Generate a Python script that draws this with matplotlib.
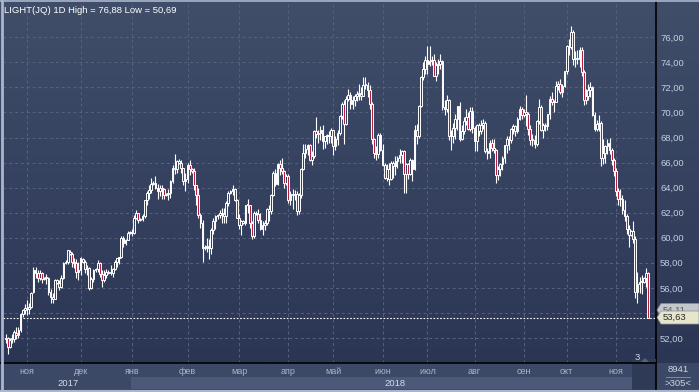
import numpy as np
import matplotlib
matplotlib.use("Agg")
import matplotlib.pyplot as plt
from matplotlib.patches import Rectangle, Polygon
from matplotlib.colors import LinearSegmentedColormap

plt.rcParams['font.family'] = ['Liberation Sans', 'DejaVu Sans']

# daily candles, 18.10.2017 .. 20.11.2018 (terminal also shows short sunday sessions in winter)
opens = [
    51.9, 52.0, 51.3, 51.9, 51.9, 52.4, 52.2, 52.6, 53.9, 54.2,
    # nov 2017
    54.4, 54.3, 54.5, 55.7, 57.4, 57.2, 56.8, 57.2, 56.7, 56.8, 56.8, 55.7, 55.3, 55.1, 56.6,
    56.4, 56.1, 56.8, 58.0, 58.1, 58.9, 58.7, 58.1, 58.0, 57.3,
    # dec
    57.4, 58.3, 58.1, 57.5, 57.6, 56.0, 56.7, 57.4, 57.5, 58.0, 57.1, 56.6, 57.0, 57.3, 57.2,
    57.2, 57.5, 58.1, 58.4, 58.5, 60.0, 59.6, 59.8, 60.4,
    # jan 2018
    60.4, 60.4, 61.6, 62.0, 61.4, 61.5, 61.7, 63.0, 63.6, 63.8, 64.3, 64.4, 64.0, 63.7, 64.0,
    63.9, 63.4, 63.5, 63.6, 64.5, 65.6, 65.5, 66.1, 66.0, 65.6, 64.5,
    # feb
    64.7, 65.8, 65.5, 65.3, 64.2, 63.4, 61.8, 61.2, 59.2, 59.3, 59.3, 59.2, 60.6, 61.3, 61.7,
    61.8, 62.0, 61.9, 61.7, 62.8, 63.6, 63.7, 63.9, 63.0,
    # mar
    61.6, 61.0, 61.3, 61.2, 62.6, 62.6, 61.2, 60.1, 62.0, 61.9, 61.4, 60.7, 61.0, 61.2, 62.3,
    62.1, 63.4, 65.2, 64.3, 65.9, 65.6, 65.3, 64.4,
    # apr
    64.9, 63.0, 63.5, 63.4, 63.5, 62.1, 63.4, 65.5, 66.8, 67.1, 67.4, 66.2, 66.5, 68.5, 68.3,
    68.4, 68.6, 67.7, 68.1, 68.2, 68.1,
    # may
    68.6, 67.3, 67.9, 68.4, 69.7, 70.7, 69.1, 71.1, 71.4, 70.7, 71.0, 71.3, 71.5, 71.5, 71.3,
    72.2, 72.2, 71.8, 70.7, 67.9, 66.8, 66.7, 68.2,
    # jun
    67.0, 65.8, 64.8, 65.5, 64.7, 66.0, 65.7, 66.1, 66.4, 66.6, 66.9, 65.1, 65.9, 65.1, 66.2,
    65.5, 68.6, 68.1, 70.5, 72.8, 73.5,
    # jul
    74.2, 73.9, 74.1, 74.2, 72.9, 73.8, 73.9, 74.1, 70.4, 70.3, 71.0, 68.1, 68.1, 68.8, 69.5,
    70.5, 67.9, 68.5, 69.3, 69.6, 68.7, 70.1,
    # aug
    68.8, 67.7, 69.0, 68.5, 69.0, 69.2, 66.9, 66.8, 67.6, 67.2, 67.0, 65.0, 65.5, 65.9, 66.4,
    67.4, 67.9, 67.8, 68.7, 68.9, 68.5, 69.5, 70.3,
    # sep
    69.8, 70.0, 69.9, 68.7, 67.8, 67.8, 67.5, 69.3, 70.4, 68.6, 69.0, 68.9, 69.9, 71.1, 70.8,
    70.8, 72.1, 72.3, 71.6, 72.1,
    # oct
    73.3, 75.3, 75.2, 76.4, 74.3, 74.3, 74.3, 75.0, 73.2, 71.0, 71.3, 71.8, 72.0, 69.8, 68.7,
    69.1, 69.2, 66.4, 66.8, 67.3, 67.6, 67.0, 66.2,
    # nov 2018
    65.3, 63.7, 63.1, 63.1, 62.2, 61.7, 60.7, 60.2, 60.5, 59.9, 55.7, 56.3, 56.5, 56.5, 56.8,
    57.2,
]
highs = [
    52.3, 52.1, 52.0, 52.3, 52.6, 52.9, 52.9, 54.0, 54.3, 54.7,
    55.0, 54.8, 55.7, 57.7, 57.7, 57.4, 57.4, 57.3, 56.9, 57.1, 56.9, 55.9, 55.6, 56.7, 56.7,
    56.6, 57.0, 58.1, 58.2, 59.0, 59.0, 58.9, 58.4, 58.3, 58.1,
    58.5, 58.4, 58.2, 57.8, 57.7, 56.9, 57.5, 57.6, 58.2, 58.1, 57.4, 57.4, 57.5, 57.4, 57.8,
    57.6, 58.2, 58.4, 58.5, 60.1, 60.1, 59.9, 60.5, 60.5,
    60.7, 61.8, 62.2, 62.0, 61.6, 61.9, 63.0, 63.7, 64.2, 64.8, 64.5, 64.9, 64.3, 64.2, 64.2,
    64.0, 63.6, 63.9, 64.6, 65.8, 66.7, 66.2, 66.3, 66.2, 65.6, 65.2,
    66.0, 66.2, 65.6, 65.6, 64.2, 64.0, 62.0, 61.4, 59.4, 60.0, 59.9, 60.8, 61.6, 61.8, 61.9,
    62.2, 62.4, 62.4, 62.9, 63.7, 63.8, 64.2, 64.0, 63.1,
    61.9, 61.4, 61.4, 62.6, 63.1, 62.6, 61.3, 62.1, 62.1, 62.3, 62.0, 61.3, 61.4, 62.4, 62.6,
    63.5, 65.3, 65.5, 66.0, 66.2, 66.4, 65.4, 65.1,
    65.1, 63.7, 63.9, 63.8, 63.7, 63.6, 65.6, 67.5, 67.5, 67.5, 67.5, 66.9, 68.6, 69.6, 68.6,
    68.9, 69.0, 68.1, 68.3, 68.5, 68.8,
    68.6, 68.1, 68.6, 69.8, 70.8, 71.0, 71.3, 71.9, 71.6, 71.3, 71.5, 71.7, 72.3, 72.0, 72.8,
    72.8, 72.4, 72.2, 70.8, 68.0, 67.3, 68.4, 68.4,
    67.5, 66.0, 65.9, 66.0, 66.1, 66.1, 66.5, 66.5, 67.1, 67.0, 67.0, 66.0, 66.0, 66.4, 66.3,
    69.0, 69.1, 70.6, 72.9, 74.0, 74.5,
    75.3, 75.3, 74.5, 74.7, 74.0, 74.3, 74.7, 74.2, 71.0, 71.4, 71.1, 68.6, 69.2, 69.9, 70.5,
    70.8, 69.0, 69.6, 70.3, 70.0, 70.4, 70.4,
    68.9, 69.1, 69.2, 69.4, 69.5, 69.3, 67.2, 67.8, 67.9, 67.9, 67.1, 65.7, 66.0, 66.5, 67.4,
    68.1, 68.1, 68.8, 69.1, 69.0, 69.6, 70.5, 70.4,
    70.3, 71.4, 70.0, 69.0, 68.3, 68.2, 69.4, 71.1, 70.6, 69.2, 69.2, 69.9, 71.3, 71.6, 71.0,
    72.5, 72.5, 72.7, 72.3, 73.3,
    75.4, 75.9, 76.9, 76.6, 74.9, 75.0, 75.2, 75.2, 73.4, 71.9, 72.3, 72.4, 72.1, 70.0, 69.4,
    69.8, 69.3, 67.9, 67.4, 67.9, 68.0, 67.2, 66.4,
    65.6, 64.0, 63.9, 63.4, 63.0, 61.9, 61.0, 60.6, 61.3, 60.1, 57.3, 56.9, 57.0, 56.9, 57.6,
    57.3,
]
lows = [
    51.6, 50.7, 51.2, 51.6, 51.7, 51.9, 52.0, 52.5, 53.7, 53.9,
    53.8, 53.9, 54.4, 55.6, 56.8, 56.5, 56.6, 56.4, 56.6, 56.3, 55.4, 54.8, 54.8, 55.1, 56.3,
    55.8, 56.0, 56.7, 57.9, 57.9, 58.6, 57.7, 57.6, 56.8, 56.6,
    57.0, 58.0, 57.2, 57.0, 55.8, 55.9, 56.5, 57.3, 57.3, 56.9, 56.1, 56.5, 56.8, 57.1, 57.0,
    56.9, 57.4, 57.7, 57.9, 58.4, 59.3, 59.4, 59.8, 60.3,
    60.1, 60.3, 61.5, 61.2, 61.3, 61.3, 61.6, 62.6, 63.1, 63.6, 64.2, 63.9, 63.1, 63.3, 63.1,
    63.1, 63.3, 63.0, 63.2, 64.4, 65.1, 65.2, 65.9, 65.2, 64.2, 63.7,
    64.4, 65.0, 65.2, 63.8, 62.6, 61.6, 60.8, 58.1, 59.0, 58.9, 58.3, 58.7, 60.3, 60.7, 61.5,
    61.6, 61.2, 61.2, 61.2, 62.5, 63.5, 63.4, 62.9, 61.6,
    60.7, 60.2, 61.1, 61.0, 62.0, 60.8, 59.9, 60.0, 61.8, 61.2, 60.6, 60.2, 60.6, 61.0, 61.3,
    61.9, 63.3, 64.1, 64.2, 65.0, 65.1, 64.0, 64.2,
    62.8, 62.6, 62.3, 63.0, 61.8, 61.9, 63.2, 65.4, 66.4, 66.6, 66.1, 65.8, 66.4, 68.0, 67.6,
    67.8, 67.1, 67.2, 67.5, 67.6, 67.6,
    66.6, 67.0, 67.4, 68.2, 69.5, 67.5, 69.0, 70.9, 70.3, 70.3, 70.5, 70.9, 71.0, 71.0, 71.3,
    71.9, 71.2, 70.3, 67.5, 66.4, 66.2, 66.4, 66.9,
    65.7, 64.7, 64.5, 64.2, 64.6, 64.8, 65.0, 65.6, 66.0, 66.0, 63.6, 63.6, 64.7, 65.0, 64.5,
    65.4, 67.5, 68.0, 70.4, 72.6, 73.1,
    73.1, 73.7, 73.8, 72.9, 72.5, 73.1, 73.5, 70.2, 69.8, 70.0, 67.8, 67.0, 67.6, 67.9, 68.6,
    67.7, 67.8, 68.3, 69.0, 68.6, 68.5, 68.4,
    66.9, 66.9, 68.1, 68.3, 68.7, 66.8, 66.3, 66.4, 66.9, 66.8, 64.4, 64.6, 64.9, 65.4, 66.0,
    66.8, 67.0, 67.6, 68.3, 68.1, 68.4, 69.4, 69.5,
    69.6, 68.9, 68.2, 67.4, 67.3, 67.2, 67.3, 69.1, 68.5, 68.0, 68.5, 68.6, 69.5, 70.6, 70.0,
    70.8, 71.8, 71.5, 71.2, 72.0,
    73.1, 74.6, 75.1, 73.8, 73.6, 73.9, 73.6, 72.9, 70.6, 70.7, 71.0, 71.2, 69.7, 68.5, 68.5,
    68.5, 65.7, 65.9, 66.0, 66.7, 66.7, 65.8, 64.9,
    63.3, 62.6, 62.5, 61.9, 61.3, 60.3, 59.3, 60.1, 59.6, 55.2, 54.8, 55.6, 55.5, 56.4, 56.1,
    53.6,
]
closes = [
    52.0, 51.3, 51.8, 51.9, 52.5, 52.2, 52.6, 53.9, 54.2, 54.4,
    54.3, 54.5, 55.6, 57.4, 57.2, 56.8, 57.2, 56.7, 56.8, 56.8, 55.7, 55.3, 55.1, 56.6, 56.4,
    56.1, 56.8, 58.0, 58.1, 59.0, 58.7, 58.1, 58.0, 57.3, 57.4,
    58.4, 58.1, 57.5, 57.6, 56.0, 56.7, 57.4, 57.5, 58.0, 57.1, 56.6, 57.0, 57.3, 57.2, 57.2,
    57.5, 58.1, 58.4, 58.5, 60.0, 59.6, 59.8, 60.4, 60.4,
    60.4, 61.6, 62.0, 61.4, 61.5, 61.7, 63.0, 63.6, 63.8, 64.3, 64.4, 64.0, 63.7, 64.0, 63.9,
    63.4, 63.5, 63.6, 64.5, 65.6, 65.5, 66.1, 66.0, 65.6, 64.5, 64.7,
    65.8, 65.5, 65.3, 64.2, 63.4, 61.8, 61.2, 59.2, 59.3, 59.3, 59.2, 60.6, 61.3, 61.7, 61.8,
    62.0, 61.9, 61.7, 62.8, 63.6, 63.7, 63.9, 63.0, 61.6,
    61.0, 61.3, 61.2, 62.6, 62.6, 61.2, 60.1, 62.0, 61.9, 61.4, 60.7, 61.0, 61.2, 62.3, 62.1,
    63.4, 65.2, 64.3, 65.9, 65.6, 65.3, 64.4, 64.9,
    63.0, 63.5, 63.4, 63.5, 62.1, 63.4, 65.5, 66.8, 67.1, 67.4, 66.2, 66.5, 68.5, 68.3, 68.4,
    68.6, 67.7, 68.1, 68.2, 68.1, 68.6,
    67.3, 67.9, 68.4, 69.7, 70.7, 69.1, 71.1, 71.4, 70.7, 71.0, 71.3, 71.5, 71.5, 71.3, 72.2,
    72.2, 71.8, 70.7, 67.9, 66.8, 66.7, 68.2, 67.0,
    65.8, 64.8, 65.5, 64.7, 66.0, 65.7, 66.1, 66.4, 66.6, 66.9, 65.1, 65.9, 65.1, 66.2, 65.5,
    68.6, 68.1, 70.5, 72.8, 73.5, 74.2,
    73.9, 74.1, 74.2, 72.9, 73.8, 73.9, 74.1, 70.4, 70.3, 71.0, 68.1, 68.1, 68.8, 69.5, 70.5,
    67.9, 68.5, 69.3, 69.6, 68.7, 70.1, 68.8,
    67.7, 69.0, 68.5, 69.0, 69.2, 66.9, 66.8, 67.6, 67.2, 67.0, 65.0, 65.5, 65.9, 66.4, 67.4,
    67.9, 67.8, 68.7, 68.9, 68.5, 69.5, 70.3, 69.8,
    70.0, 69.9, 68.7, 67.8, 67.8, 67.5, 69.3, 70.4, 68.6, 69.0, 68.9, 69.9, 71.1, 70.8, 70.8,
    72.1, 72.3, 71.6, 72.1, 73.3,
    75.3, 75.2, 76.4, 74.3, 74.3, 74.3, 75.0, 73.2, 71.0, 71.3, 71.8, 72.0, 69.8, 68.7, 69.1,
    69.2, 66.4, 66.8, 67.3, 67.6, 67.0, 66.2, 65.3,
    63.7, 63.1, 63.1, 62.2, 61.7, 60.7, 60.2, 60.5, 59.9, 55.7, 56.3, 56.5, 56.5, 56.8, 57.2,
    53.63,
]

# candles per month section (first entry = tail of oct 2017)
month_counts = [10, 25, 24, 26, 24, 23, 21, 23, 21, 22, 23, 20, 23, 16]
month_labels = ['ноя', 'дек', 'янв', 'фев', 'мар', 'апр', 'май', 'июн', 'июл', 'авг', 'сен', 'окт', 'ноя']
year_labels = ['2017', '2018']
price_ticks = [52, 54, 56, 58, 60, 62, 64, 66, 68, 70, 72, 74, 76]
last_price = 53.63
prev_price = 54.11

o = np.array(opens); h = np.array(highs); l = np.array(lows); c = np.array(closes)
assert len(o) == len(h) == len(l) == len(c) == sum(month_counts)
x = np.arange(len(c))
month_starts = np.cumsum(month_counts)[:-1]

W, H = 699, 392
fig = plt.figure(figsize=(W / 100, H / 100), dpi=100)
fig.patch.set_facecolor('#3b4866')

# gradient background behind chart + price scale
bg = fig.add_axes([0, 29 / H, 1, 363 / H])
bg.axis('off')
grad = np.linspace(0, 1, 256).reshape(-1, 1)
cm = LinearSegmentedColormap.from_list('bgc', ['#404e6a', '#2b3654'])
bg.imshow(grad, cmap=cm, aspect='auto', extent=[0, 1, 0, 1])

ax = fig.add_axes([3 / W, 29 / H, 653 / W, 362 / H])
ax.patch.set_alpha(0)
ax.set_xlim(-1.2, 303.7)
ax.set_ylim(50.0, 78.9)

for s in ['top', 'left', 'bottom']:
    ax.spines[s].set_visible(False)
ax.spines['right'].set_color('black')
ax.spines['right'].set_linewidth(1.2)

ax.yaxis.tick_right()
ax.set_yticks(price_ticks)
ax.set_yticklabels([('%.2f' % v).replace('.', ',') for v in price_ticks])
ax.tick_params(axis='y', length=0, pad=3, labelsize=6.8, labelcolor='#c5cde0')
ax.set_xticks([])

for v in price_ticks:
    ax.axhline(v, color='#56627f', lw=0.7, ls=(0, (3, 3)), zorder=1)
for m in month_starts:
    ax.axvline(m, color='#56627f', lw=0.7, ls=(0, (3, 3)), zorder=1)

# candles
down = c < o
ax.vlines(x, l, h, color='white', lw=0.8, zorder=3)
body_lo = np.minimum(o, c)
body_h = np.maximum(np.abs(c - o), 0.06)
ax.bar(x[~down], body_h[~down], bottom=body_lo[~down], width=0.8,
       facecolor='#34405d', edgecolor='white', lw=0.7, zorder=4)
ax.bar(x[down], body_h[down], bottom=body_lo[down], width=0.8,
       facecolor='#b3203f', edgecolor='white', lw=0.7, zorder=4)

ax.axhline(last_price, color='white', lw=0.8, ls=(0, (1.5, 1.5)), zorder=2)

ax.text(0.002, 0.985, 'LIGHT(JQ) 1D High = 76,88 Low = 50,69', transform=ax.transAxes,
        ha='left', va='top', color='white', fontsize=6.8)

fig.canvas.draw()


def fig_xy(xv, yv):
    return fig.transFigure.inverted().transform(ax.transData.transform((xv, yv)))


# price tags on the scale (older tag sits partly under the current one)
x0 = 657 / W
tags = [(prev_price, '#c3c7cc', '#555a60', 1.5, 10), (last_price, '#e6e6cc', '#2a2a2a', 0, 12)]
for p, fc, tc, dy, z in tags:
    yc = fig_xy(0, p)[1] + dy / H
    hh = 6.5 / H
    poly = Polygon([[x0, yc], [x0 + 4 / W, yc + hh], [1, yc + hh], [1, yc - hh], [x0 + 4 / W, yc - hh]],
                   closed=True, transform=fig.transFigure, facecolor=fc, edgecolor='#8a8f96', lw=0.5,
                   zorder=z)
    fig.add_artist(poly)
    fig.text(x0 + 6 / W, yc, ('%.2f' % p).replace('.', ','), color=tc, fontsize=6.8,
             ha='left', va='center', zorder=z + 1)

# bottom time strip
jan_x = fig_xy(month_starts[2] - 0.5, 60)[0]
fig.add_artist(Rectangle((jan_x, 3 / H), 656 / W - jan_x, 12 / H, transform=fig.transFigure,
                         facecolor='#4b5877', edgecolor='none'))
fig.add_artist(Rectangle((632 / W, 0), 24 / W, 33 / H, transform=fig.transFigure,
                         facecolor='#2e3a56', edgecolor='none'))
fig.text(637 / W, 1 - 358 / H, '3', color='#d0d6e4', fontsize=6.8, ha='center', va='center')
fig.add_artist(Polygon([[641 / W, 1 - 362 / H], [645 / W, 1 - 358 / H], [649 / W, 1 - 362 / H]],
                       closed=True, transform=fig.transFigure, facecolor='#55607a', edgecolor='none'))

for m, lab in zip(month_starts, month_labels):
    fig.text(fig_xy(m, 60)[0], 1 - 372 / H, lab, ha='center', va='center',
             color='#aab5cc', fontsize=6.5)
fig.text(68 / W, 1 - 383 / H, year_labels[0], color='#d5dbe8', fontsize=6.8, ha='center', va='center')
fig.text(395 / W, 1 - 383 / H, year_labels[1], color='#d5dbe8', fontsize=6.8, ha='center', va='center')

# frame lines
fig.add_artist(plt.Line2D([0, 656 / W], [29 / H, 29 / H], transform=fig.transFigure, color='black', lw=1.2))
fig.add_artist(plt.Line2D([656 / W, 656 / W], [0, 29 / H], transform=fig.transFigure, color='black', lw=1.2))
fig.add_artist(plt.Line2D([1.5 / W, 1.5 / W], [0, 1], transform=fig.transFigure, color='#a9b6cc', lw=2))
fig.add_artist(plt.Line2D([0, 1], [1 - 0.7 / H, 1 - 0.7 / H], transform=fig.transFigure, color='#a9b6cc', lw=1.2))
fig.add_artist(plt.Line2D([0, 1], [1 / H, 1 / H], transform=fig.transFigure, color='#a9b6cc', lw=1.5))

# volume box at lower right
fig.text(678 / W, 1 - 370 / H, '8941', color='#d0d6e4', fontsize=6.8, ha='center', va='center')
fig.add_artist(plt.Line2D([666 / W, 690 / W], [1 - 377 / H, 1 - 377 / H], transform=fig.transFigure,
                          color='#8a95ab', lw=0.6))
fig.text(678 / W, 1 - 384 / H, '>305<', color='#d0d6e4', fontsize=6.8, ha='center', va='center')

fig.savefig('out.png', dpi=100, facecolor=fig.get_facecolor())
